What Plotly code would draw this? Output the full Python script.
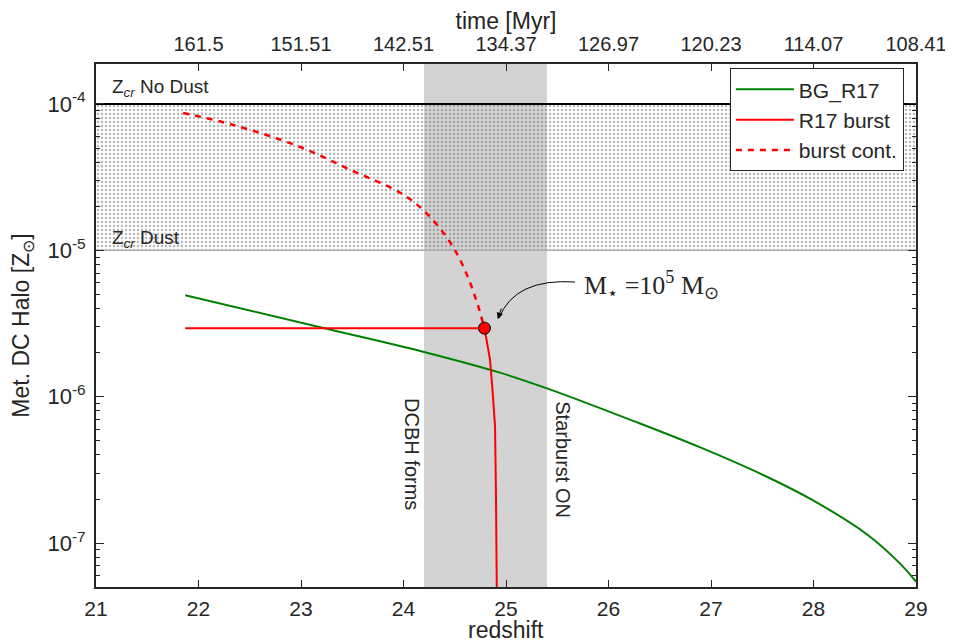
import plotly.graph_objects as go

# background metallicity (BG_R17)
z_bg = [21.87, 23.28, 24.19, 24.94, 25.40, 26.24, 26.89, 27.54, 28.0, 28.52, 28.84, 29.0]
met_bg = [4.93e-6, 2.88e-6, 2.03e-6, 1.46e-6, 1.14e-6, 6.84e-7, 4.52e-7, 2.85e-7, 1.95e-7, 1.15e-7, 7.3e-8, 5.45e-8]

# R17 burst
z_burst = [21.87, 24.79, 24.81, 24.844, 24.868, 24.893, 24.902, 24.91]
met_burst = [2.94e-6, 2.94e-6, 2.45e-6, 1.79e-6, 1.12e-6, 6.27e-7, 2.19e-7, 5.0e-8]

# burst continuation
z_cont = [21.85, 22.34, 22.99, 23.48, 23.97, 24.19, 24.45, 24.60, 24.71, 24.79]
met_cont = [8.68e-5, 7.19e-5, 5.09e-5, 3.55e-5, 2.47e-5, 1.89e-5, 1.15e-5, 7.3e-6, 4.56e-6, 2.94e-6]

# M_star = 1e5 Msun point
z_star = [24.79]
met_star = [2.94e-6]

# critical metallicities
zcr_dust = 1e-5
zcr_nodust = 1e-4

# DCBH / starburst window
z_dcbh = 24.2
z_starburst = 25.4

# top axis: cosmic time at integer redshifts
top_z = [22, 23, 24, 25, 26, 27, 28, 29]
top_time = ["161.5", "151.51", "142.51", "134.37", "126.97", "120.23", "114.07", "108.41"]

xr = [21, 29]
FONT = "Liberation Sans"
TXT = "#262626"

fig = go.Figure()

# dotted band between the two critical metallicities
fig.add_trace(go.Scatter(
    x=[xr[0], xr[1], xr[1], xr[0], xr[0]],
    y=[zcr_dust, zcr_dust, zcr_nodust, zcr_nodust, zcr_dust],
    fill="toself", mode="none", fillcolor="rgba(255,255,255,0)",
    fillpattern=dict(shape=".", fgcolor="#707070", bgcolor="rgba(255,255,255,0)", size=4, solidity=0.3),
    showlegend=False, hoverinfo="skip"))
fig.add_trace(go.Scatter(x=xr, y=[zcr_nodust] * 2, mode="lines",
                         line=dict(color="black", width=2), showlegend=False))
fig.add_trace(go.Scatter(x=xr, y=[zcr_dust] * 2, mode="lines",
                         line=dict(color="#b0b0b0", width=1.5), showlegend=False))

fig.add_trace(go.Scatter(x=z_bg, y=met_bg, mode="lines", name="BG_R17",
                         line=dict(color="green", width=2, shape="spline")))
fig.add_trace(go.Scatter(x=z_burst, y=met_burst, mode="lines", name="R17 burst",
                         line=dict(color="red", width=2)))
fig.add_trace(go.Scatter(x=z_cont, y=met_cont, mode="lines", name="burst cont.",
                         line=dict(color="red", width=2.5, dash="6px,6px", shape="spline")))
fig.add_trace(go.Scatter(x=z_star, y=met_star, mode="markers", showlegend=False,
                         marker=dict(color="red", size=12, line=dict(color="black", width=1))))

# dummy trace for the top time axis
fig.add_trace(go.Scatter(x=xr, y=[None, None], xaxis="x2", showlegend=False, hoverinfo="skip"))

fig.add_shape(type="rect", xref="x", yref="paper", x0=z_dcbh, x1=z_starburst, y0=0, y1=1,
              fillcolor="#d3d3d3", line_width=0, layer="below")

# curved arrow to the M_star point
fig.add_shape(type="path", xref="paper", yref="paper",
              path="M 0.5841 0.5832 Q 0.511 0.5908 0.4915 0.5145",
              line=dict(color="black", width=1))
fig.add_annotation(x=24.92, y=-5.47, xref="x", yref="y", text="", showarrow=True,
                   ax=4, ay=-12, arrowhead=2, arrowsize=1.3, arrowwidth=1, arrowcolor="black")
fig.add_annotation(x=25.74, y=-5.239, xref="x", yref="y", xanchor="left", showarrow=False,
                   text="M<sub>\u22c6</sub> =10<sup>5</sup> M<sub>\u2299</sub>",
                   font=dict(family="Liberation Serif", size=26, color=TXT))

# labels
fig.add_annotation(x=21.14, y=-3.89, xref="x", yref="y", xanchor="left", showarrow=False,
                   text="Z<sub><i>cr</i></sub> No Dust", font=dict(family=FONT, size=19, color=TXT))
fig.add_annotation(x=21.14, y=-4.92, xref="x", yref="y", xanchor="left", showarrow=False,
                   text="Z<sub><i>cr</i></sub> Dust", font=dict(family=FONT, size=19, color=TXT))
fig.add_annotation(x=24.08, y=-6.39, xref="x", yref="y", showarrow=False, textangle=90,
                   text="DCBH forms", font=dict(family=FONT, size=20, color=TXT))
fig.add_annotation(x=25.56, y=-6.43, xref="x", yref="y", showarrow=False, textangle=90,
                   text="Starburst ON", font=dict(family=FONT, size=20, color=TXT))

# x axis title (placed by hand, automargin is off)
fig.add_annotation(x=0.5, y=-0.082, xref="paper", yref="paper", showarrow=False,
                   xanchor="center", yanchor="middle",
                   text="redshift", font=dict(family=FONT, size=23, color=TXT))

minor_vals = [m * 10.0 ** e for e in range(-8, -3) for m in range(2, 10)]

fig.update_layout(
    width=937, height=635,
    margin=dict(l=88, r=29, t=56, b=56),
    plot_bgcolor="white", paper_bgcolor="white",
    font=dict(family=FONT, size=20, color=TXT),
    xaxis=dict(range=xr, tickvals=list(range(21, 30)), ticks="inside", ticklen=7,
               tickcolor=TXT, showgrid=False, zeroline=False, showline=True,
               linecolor=TXT, linewidth=2, mirror=True, ticklabelstandoff=2,
               tickfont=dict(size=21), automargin=False),
    xaxis2=dict(range=xr, overlaying="x", side="top", tickvals=top_z, ticktext=top_time,
                ticks="inside", ticklen=7, tickcolor=TXT, showgrid=False, zeroline=False,
                ticklabelstandoff=8, tickfont=dict(size=20), automargin=False,
                ticklabeloverflow="allow",
                title=dict(text="time [Myr]", font=dict(size=23), standoff=4)),
    yaxis=dict(type="log", range=[-7.30, -3.727],
               tickvals=[1e-7, 1e-6, 1e-5, 1e-4],
               ticktext=["10<sup>-7</sup>", "10<sup>-6</sup>", "10<sup>-5</sup>", "10<sup>-4</sup>"],
               ticks="inside", ticklen=8, tickcolor=TXT, showgrid=False, zeroline=False,
               showline=True, linecolor=TXT, linewidth=2, mirror="ticks",
               ticklabelstandoff=4, tickfont=dict(size=22), automargin=False,
               minor=dict(tickvals=minor_vals, ticks="inside", ticklen=4, tickcolor=TXT, showgrid=False),
               title=dict(text="Met. DC Halo [Z<sub>\u2299</sub>]", font=dict(size=23), standoff=12)),
    legend=dict(x=0.773, y=0.992, xanchor="left", yanchor="top",
                bgcolor="white", bordercolor=TXT, borderwidth=1,
                font=dict(size=21), itemwidth=58),
)

fig.write_html("out.html", post_script="document.body.style.overflow='hidden';")
